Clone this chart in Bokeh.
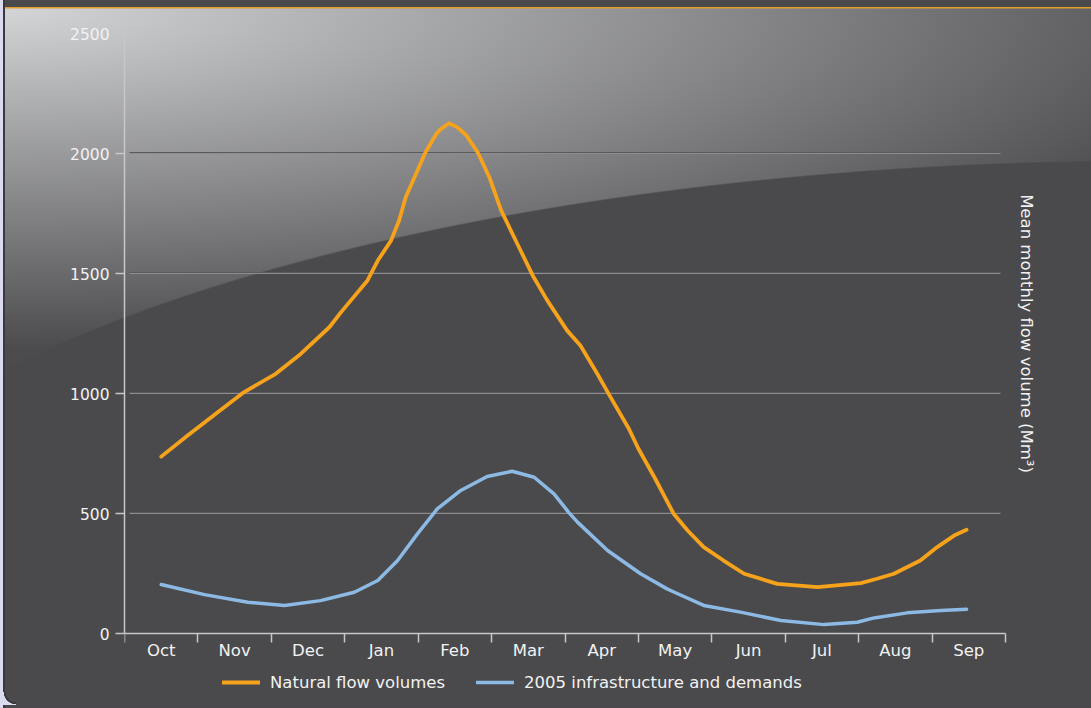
import math
from bokeh.plotting import figure
from bokeh.models import (Range1d, FixedTicker, Legend, LegendItem,
                          CustomJSTickFormatter, Grid)
from bokeh.core.properties import value
from bokeh.embed import file_html
from bokeh.resources import INLINE

# ---------------- data ----------------
months = ["Oct", "Nov", "Dec", "Jan", "Feb", "Mar", "Apr", "May", "Jun", "Jul", "Aug", "Sep"]
y_ticks = [0, 500, 1000, 1500, 2000, 2500]

# x in months from start of October (0 = start of Oct, 12 = end of Sep)
natural_x = [0.50, 0.86, 1.27, 1.63, 2.06, 2.40, 2.79, 2.95, 3.31, 3.45, 3.63, 3.74, 3.83,
             3.95, 4.10, 4.24, 4.30, 4.42, 4.53, 4.65, 4.81, 4.97, 5.13, 5.35, 5.56, 5.76,
             6.03, 6.21, 6.44, 6.62, 6.87, 7.00, 7.22, 7.48, 7.67, 7.89, 8.16, 8.44, 8.89,
             9.44, 10.03, 10.25, 10.48, 10.84, 11.07, 11.30, 11.47]
natural_y = [737, 825, 922, 1006, 1082, 1165, 1276, 1339, 1471, 1554, 1637, 1721, 1818,
             1901, 2005, 2078, 2100, 2126, 2110, 2078, 2005, 1901, 1763, 1624, 1492, 1387,
             1262, 1200, 1082, 985, 853, 770, 650, 499, 429, 360, 304, 249, 207,
             193, 210, 228, 249, 304, 360, 408, 432]

infra_x = [0.50, 1.09, 1.68, 2.18, 2.67, 3.13, 3.45, 3.72, 3.99, 4.26, 4.58, 4.94, 5.28,
           5.58, 5.85, 6.05, 6.17, 6.58, 7.03, 7.39, 7.49, 7.89, 8.39, 8.94, 9.53, 9.98,
           10.21, 10.66, 11.12, 11.47]
infra_y = [204, 162, 130, 117, 137, 172, 221, 304, 415, 519, 596, 654, 676,
           651, 582, 505, 464, 346, 249, 186, 172, 117, 89, 54, 37, 47,
           65, 86, 96, 101]

series_labels = ["Natural flow volumes", "2005 infrastructure and demands"]
axis_title = "Mean monthly flow volume (Mm\u00b3)"

# ---------------- style / geometry ----------------
FONT = "DejaVu Sans"
TXT = "#f2f2f2"
AXC = "#c8c8c8"
ORANGE = "#f6a31b"
BLUE = "#8cbae4"

N_MONTHS = len(months)
Y_MIN, Y_MAX = y_ticks[0], y_ticks[-1]
PX_PER_UNIT = 600 / (Y_MAX - Y_MIN)       # 600 px for the 0..2500 span
PX_PER_MONTH = 881 / N_MONTHS             # 881 px for Oct..Sep
FRAME_H = 675                             # frame reaches the page bottom (legend room)
FRAME_W = 967                             # frame reaches the page right (title room)
Y_LOW = Y_MAX - FRAME_H / PX_PER_UNIT
X_HIGH = FRAME_W / PX_PER_MONTH

bg_styles = {
    "background-color": "#4a4a4c",
    "background-image": (
        "radial-gradient(circle at 100% 0, rgba(0,0,0,0) 10px, #3a3a3c 10.5px, #3a3a3c 12px, #dadbf0 12.5px), "
        "linear-gradient(#dadbf0, #dadbf0), "
        "linear-gradient(#3a3a3c, #3a3a3c), "
        "linear-gradient(#4a4a4c, #4a4a4c), "
        "linear-gradient(#e39b2c, #e39b2c), "
        "radial-gradient(1400px 490px at 1150px 650px, #4a4a4c 99.7%, rgba(74,74,76,0) 100%), "
        "radial-gradient(1300px 340px at 0px 8px, #d4d5d7 0%, #4c4c4e 100%)"
    ),
    "background-size": "13px 13px, 3px 100%, 2px 100%, 100% 7px, 100% 1.5px, 100% 100%, 100% 100%",
    "background-position": "3px 692px, 0 0, 3px 0, 0 0, 0 7px, 0 0, 0 0",
    "background-repeat": "no-repeat",
}

p = figure(frame_width=FRAME_W, frame_height=FRAME_H,
           x_range=Range1d(0, X_HIGH), y_range=Range1d(Y_LOW, Y_MAX),
           output_backend="svg", toolbar_location=None,
           min_border_left=124, min_border_right=0, min_border_top=33, min_border_bottom=0,
           background_fill_alpha=0, border_fill_alpha=0, outline_line_color=None,
           styles=bg_styles)

# x axis pinned at y = 0: labels centred in each month, tick marks at month boundaries
xa = p.xaxis[0]
xa.fixed_location = 0
xa.bounds = (0, N_MONTHS)
xa.ticker = FixedTicker(ticks=[i + 0.5 for i in range(N_MONTHS)],
                        minor_ticks=list(range(N_MONTHS + 1)))
xa.formatter = CustomJSTickFormatter(args=dict(months=months),
                                     code="return months[Math.round(tick - 0.5)]")
xa.major_tick_line_color = None
xa.major_tick_out = 0
xa.major_tick_in = 0
xa.minor_tick_out = 9
xa.minor_tick_in = 0
xa.minor_tick_line_color = AXC
xa.minor_tick_line_width = 1.5
xa.axis_line_color = AXC
xa.axis_line_width = 1.5
xa.major_label_standoff = -2
xa.major_label_text_font = FONT
xa.major_label_text_font_size = "16.5px"
xa.major_label_text_color = TXT

ya = p.yaxis[0]
ya.bounds = (Y_MIN, Y_MAX)
ya.ticker = FixedTicker(ticks=y_ticks, minor_ticks=[])
ya.major_tick_out = 9
ya.major_tick_in = 0
ya.major_tick_line_color = AXC
ya.major_tick_line_width = 1.5
ya.axis_line_color = AXC
ya.axis_line_width = 1.5
ya.major_label_standoff = 6
ya.major_label_text_font = FONT
ya.major_label_text_font_size = "15.5px"
ya.major_label_text_color = TXT

# grid: light line with a dark line 1px above (embossed look)
grid_x = (4.5 / PX_PER_MONTH, N_MONTHS - 5 / PX_PER_MONTH)
p.xgrid.visible = False
p.ygrid.ticker = FixedTicker(ticks=y_ticks[1:])
p.ygrid.grid_line_color = "#8d8d8f"
p.ygrid.grid_line_width = 1
p.ygrid.cross_bounds = grid_x
shift = 1 / PX_PER_UNIT
p.extra_y_ranges = {"shift": Range1d(Y_LOW - shift, Y_MAX - shift)}
dark_grid = Grid(dimension=1, ticker=FixedTicker(ticks=y_ticks[1:]), y_range_name="shift",
                 grid_line_color="#5a5a5c", grid_line_width=1.2, cross_bounds=grid_x)
p.add_layout(dark_grid)

# right-hand axis title (vertical, reading top to bottom), centred on the 0..2500 span
p.text(x=[N_MONTHS + 21 / PX_PER_MONTH], y=[(Y_MIN + Y_MAX) / 2], text=[axis_title],
       angle=-math.pi / 2, text_align="center", text_baseline="middle",
       text_font=value(FONT), text_font_size="16.5px", text_color=TXT)

r1 = p.line(natural_x, natural_y, line_color=ORANGE, line_width=3.8,
            line_cap="round", line_join="round")
r2 = p.line(infra_x, infra_y, line_color=BLUE, line_width=3.5,
            line_cap="round", line_join="round")

legend = Legend(items=[LegendItem(label=series_labels[0], renderers=[r1]),
                       LegendItem(label=series_labels[1], renderers=[r2])],
                orientation="horizontal", location=(98, 16),
                label_text_font=FONT, label_text_font_size="16.5px", label_text_color=TXT,
                glyph_width=38, glyph_height=20, label_standoff=10, spacing=31,
                padding=0, margin=0, border_line_color=None, background_fill_alpha=0)
p.add_layout(legend, "center")

open("out.html", "w").write(file_html(p, INLINE))
